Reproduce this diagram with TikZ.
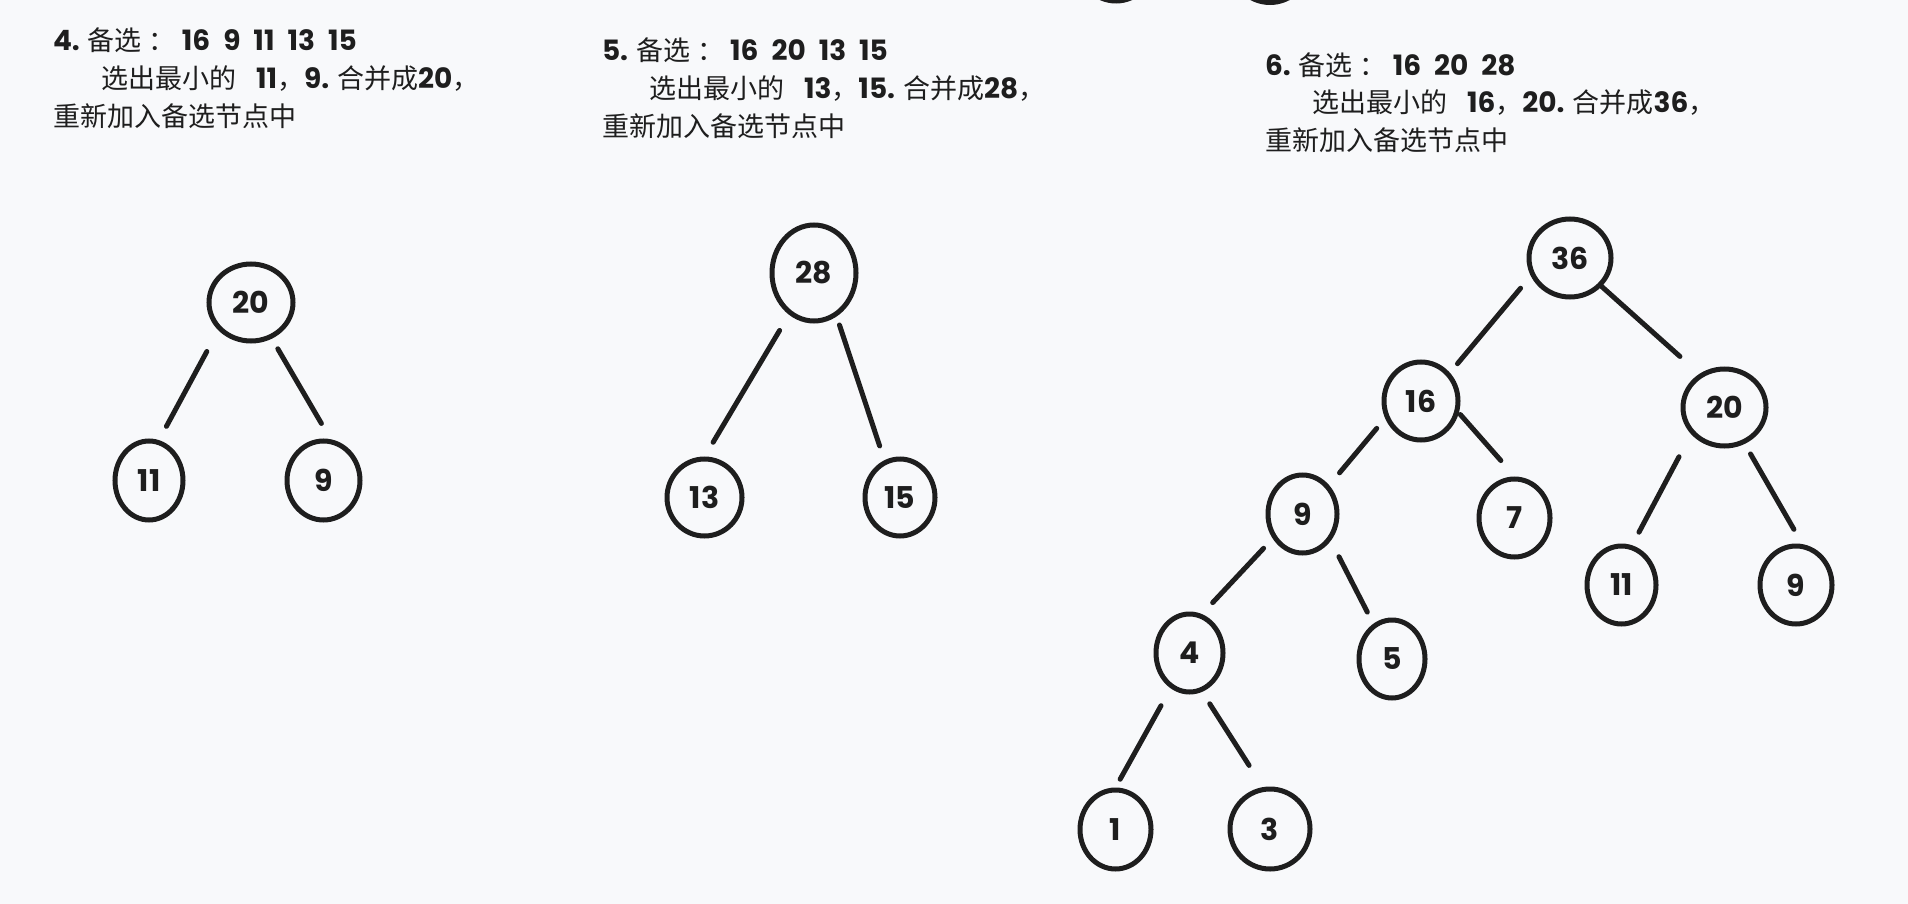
\documentclass[tikz,border=0pt]{standalone}
\usepackage{fontspec}
\setmainfont{Noto Sans CJK SC}
\newfontfamily\dgfont{Poppins}
\usetikzlibrary{shapes.geometric}
\definecolor{bg}{RGB}{248,249,251}
\definecolor{ink}{RGB}{30,30,30}
\newcommand\hdig[1]{{\dgfont\bfseries\fontsize{28}{38}\selectfont\spaceskip=13pt\relax #1}}
\newcommand\colonsp{\hspace{7pt}：\hspace{6pt}}
\begin{document}
\begin{tikzpicture}[x=1pt,y=-1pt,
  tnode/.style={ellipse, draw=ink, line width=5pt, inner sep=0pt, outer sep=0pt,
    font=\dgfont\bfseries\fontsize{30}{30}\selectfont, text=ink},
  edge/.style={draw=ink, line width=5pt, line cap=round},
  txt/.style={anchor=base west, inner sep=0pt, outer sep=0pt, text=ink,
    font=\fontsize{27}{38}\selectfont}]
\fill[bg] (0,0) rectangle (1908,904);
\useasboundingbox (0,0) rectangle (1908,904);

% partial nodes cut by the top edge
\node[tnode, minimum width=76pt, minimum height=78pt] (topa) at (1116,-38) {};
\node[tnode, minimum width=78pt, minimum height=78pt] (topb) at (1270,-36.5) {};

% ---- texts ----
\node[txt] (t4a) at (53,51) {\hdig{4.} 备选\colonsp\hdig{16 9 11 13 15}};
\node[txt] (t4b) at (101,89) {选出最小的\hspace{20pt}\hdig{11}，\hdig{9.} 合并成\hdig{20}，};
\node[txt] (t4c) at (53,127) {重新加入备选节点中};

\node[txt] (t5a) at (602,61) {\hdig{5.} 备选\colonsp\hdig{16 20 13 15}};
\node[txt] (t5b) at (649,99) {选出最小的\hspace{20pt}\hdig{13}，\hdig{15.} 合并成\hdig{28}，};
\node[txt] (t5c) at (602,137) {重新加入备选节点中};

\node[txt] (t6a) at (1265,75.5) {\hdig{6.} 备选\colonsp\hdig{16 20 28}};
\node[txt] (t6b) at (1312,113) {选出最小的\hspace{20pt}\hdig{16}，\hdig{20.} 合并成\hdig{36}，};
\node[txt] (t6c) at (1265,151) {重新加入备选节点中};

% ---- tree 4 ----
\node[tnode, minimum width=84pt, minimum height=77pt] (a20) at (251,302.5) {20};
\node[tnode, minimum width=68pt, minimum height=79pt] (a11) at (149,480.5) {11};
\node[tnode, minimum width=73pt, minimum height=79pt] (a9) at (323.5,480.5) {9};
\draw[edge, shorten <=26.7pt, shorten >=18.2pt] (a20.219.8) -- (a11.77.9);
\draw[edge, shorten <=14.2pt, shorten >=21.7pt] (a20.300.4) -- (a9.77.8);

% ---- tree 5 ----
\node[tnode, minimum width=84pt, minimum height=96pt] (b28) at (814,273) {28};
\node[tnode, minimum width=75pt, minimum height=77pt] (b13) at (704.5,497.5) {13};
\node[tnode, minimum width=70pt, minimum height=77pt] (b15) at (900,497.5) {15};
\draw[edge, shorten <=20.8pt, shorten >=19.5pt] (b28.239.7) -- (b13.92.2);
\draw[edge, shorten <=11.6pt, shorten >=17.6pt] (b28.298.3) -- (b15.113.6);

% ---- tree 6 ----
\node[tnode, minimum width=82pt, minimum height=78pt] (c36) at (1570,258) {36};
\node[tnode, minimum width=74pt, minimum height=78pt] (c16) at (1421,401) {16};
\node[tnode, minimum width=83pt, minimum height=77pt] (c20) at (1724.5,407.5) {20};
\node[tnode, minimum width=69pt, minimum height=78pt] (c9) at (1302.5,514) {9};
\node[tnode, minimum width=71pt, minimum height=78pt] (c7) at (1514.5,518) {7};
\node[tnode, minimum width=69pt, minimum height=78pt] (c11) at (1621.5,585) {11};
\node[tnode, minimum width=72pt, minimum height=78pt] (c9b) at (1796,585) {9};
\node[tnode, minimum width=67pt, minimum height=78pt] (c4) at (1189.5,653) {4};
\node[tnode, minimum width=66pt, minimum height=78pt] (c5) at (1392,659) {5};
\node[tnode, minimum width=71pt, minimum height=79pt] (c1) at (1115.5,829.5) {1};
\node[tnode, minimum width=80pt, minimum height=80pt] (c3) at (1270,829) {3};

\draw[edge, shorten <=18.7pt, shorten >=14.3pt] (c36.203.6) -- (c16.44.5);
\draw[edge, shorten <=2.3pt, shorten >=28.7pt] (c36.318) -- (c20.126.8);
\draw[edge, shorten <=15.9pt, shorten >=18.7pt] (c16.204.4) -- (c9.47.9);
\draw[edge, shorten <=5.2pt, shorten >=24.75pt] (c16.345.1) -- (c7.86.3);
\draw[edge, shorten <=15.9pt, shorten >=18.4pt] (c9.219.4) -- (c4.74.6);
\draw[edge, shorten <=20.7pt, shorten >=15.6pt] (c9.318.0) -- (c5.118.5);
\draw[edge, shorten <=28.3pt, shorten >=17.3pt] (c20.217.0) -- (c11.76.0);
\draw[edge, shorten <=14.1pt, shorten >=20.4pt] (c20.299.9) -- (c9b.78.0);
\draw[edge, shorten <=22.35pt, shorten >=12.35pt] (c4.242.1) -- (c1.92.3);
\draw[edge, shorten <=16.7pt, shorten >=28.5pt] (c4.287.7) -- (c3.98.4);
\end{tikzpicture}
\end{document}
